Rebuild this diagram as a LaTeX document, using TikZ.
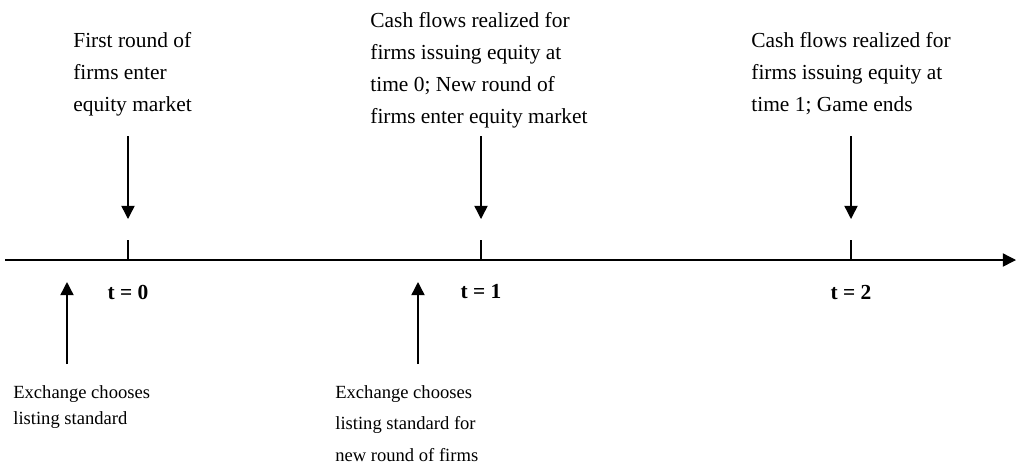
\documentclass[tikz,border=0pt]{standalone}
\usepackage{fontspec}
\setmainfont{Liberation Serif}
\usetikzlibrary{positioning,arrows.meta}

\begin{document}
\begin{tikzpicture}[x=0.56pt,y=-0.56pt,
    every node/.style={inner sep=0pt},
    event/.style={align=left,anchor=north west,font=\fontsize{12}{17.9}\selectfont},
    choice/.style={align=left,anchor=north west,font=\fontsize{10.4}{#1}\selectfont},
    timelabel/.style={font=\fontsize{12}{14}\selectfont\bfseries},
    arr/.style={-{Triangle[length=7.4pt,width=7.4pt]},line width=0.8pt}]
    \useasboundingbox (0,0) rectangle (1020,465);

    % time axis
    \coordinate (start) at (5,260);
    \coordinate (stop) at (1016,260);
    \draw[arr] (start) -- (stop);

    % ticks and labels
    \foreach \name/\xpos/\num in {t0/128/0,t1/481/1,t2/851/2}{
        \coordinate (\name) at (\xpos,260);
        \coordinate (\name top) at (\xpos,240);
        \draw[line width=0.8pt] (\name) -- (\name top);
        \node[timelabel] (\name lab) at (\xpos,292) {t = \num};
    }

    % events above the axis
    \node[event] (first) at (73,32) {First round of\\firms enter\\equity market};
    \node[event] (cash0) at (370,12) {Cash flows realized for\\firms issuing equity at\\time 0; New round of\\firms enter equity market};
    \node[event] (cash1) at (751,32) {Cash flows realized for\\firms issuing equity at\\time 1; Game ends};

    \foreach \name/\xpos in {d0/128,d1/481,d2/851}{
        \coordinate (\name s) at (\xpos,136);
        \coordinate (\name e) at (\xpos,219);
        \draw[arr] (\name s) -- (\name e);
    }

    % exchange choices below the axis
    \coordinate (u0s) at (67,364);
    \coordinate (u0e) at (67,282);
    \coordinate (u1s) at (418,364);
    \coordinate (u1e) at (418,282);
    \draw[arr] (u0s) -- (u0e);
    \draw[arr] (u1s) -- (u1e);

    \node[choice=14.6] (exch0) at (13,385) {Exchange chooses\\listing standard};
    \node[choice=17.6] (exch1) at (335,385) {Exchange chooses\\listing standard for\\new round of firms};
\end{tikzpicture}
\end{document}
